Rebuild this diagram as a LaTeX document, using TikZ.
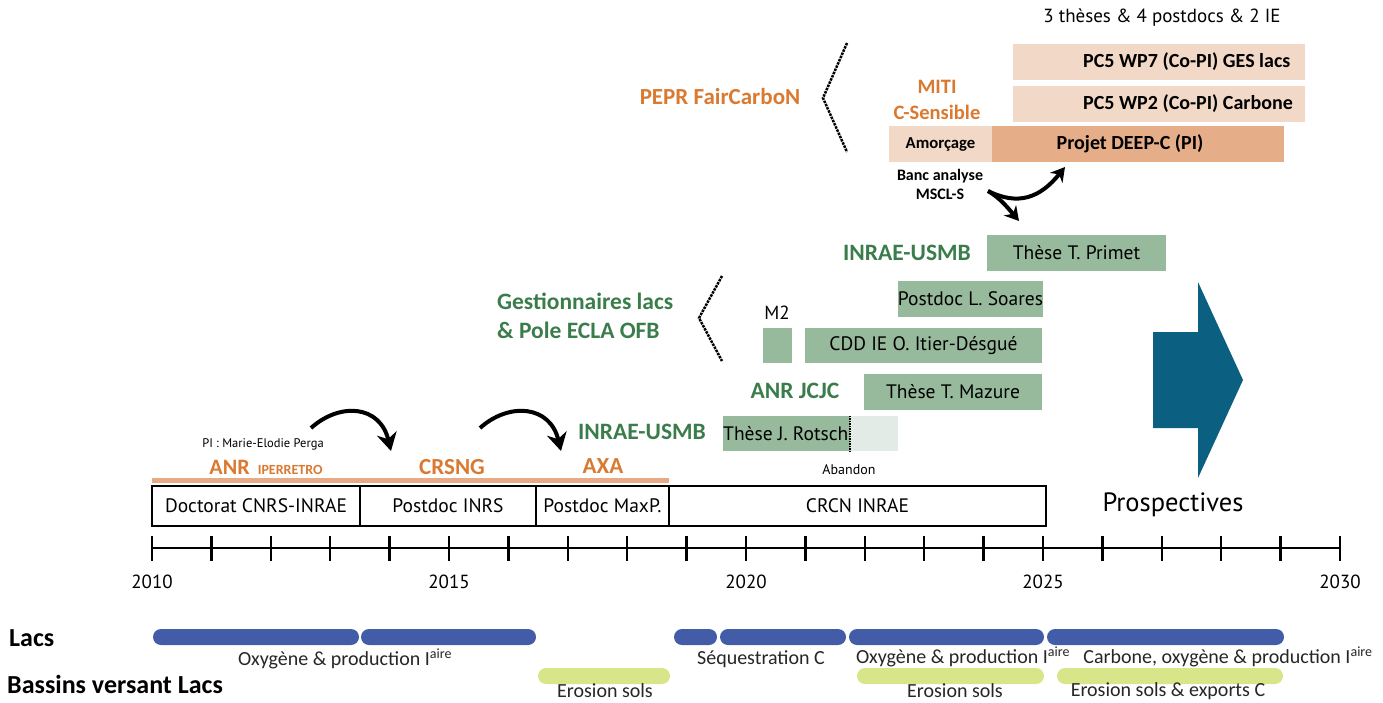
\documentclass[tikz,border=0pt]{standalone}
\usepackage{fontspec}
\setmainfont{Carlito}
\newfontfamily\myr{PT Sans}
\usetikzlibrary{arrows.meta}
\definecolor{orng}{RGB}{218,121,48}
\definecolor{grn}{RGB}{58,125,75}
\definecolor{gbox}{RGB}{151,185,156}
\definecolor{lgbox}{RGB}{226,235,229}
\definecolor{salL}{RGB}{242,216,198}
\definecolor{salD}{RGB}{230,174,136}
\definecolor{obar}{RGB}{232,170,132}
\definecolor{bbar}{RGB}{67,92,167}
\definecolor{ybar}{RGB}{217,229,137}
\definecolor{teal}{RGB}{11,95,128}
\newcommand{\fs}[1]{\fontsize{#1}{#1}\selectfont}
\tikzset{
  greenbox/.style={fill=gbox, draw=none, inner sep=0pt, font=\myr\fs{19.5}},
  salbox/.style={fill=salL, draw=none, inner sep=0pt, font=\bfseries\fs{20}},
  cvbox/.style={draw=black, line width=2.5pt, fill=white, inner sep=0pt, minimum height=40pt, font=\myr\fs{19.5}},
  olab/.style={text=orng, font=\bfseries\fs{23}, inner sep=0pt},
  glab/.style={text=grn, font=\bfseries\fs{23.5}, inner sep=0pt},
  blubar/.style={fill=bbar, rounded corners=8pt, minimum height=16pt, inner sep=0pt},
  yelbar/.style={fill=ybar, rounded corners=8pt, minimum height=16pt, inner sep=0pt},
  bartxt/.style={font=\fs{20}, inner sep=0pt, text=black!85},
  bigarrow/.style={line width=4pt, -{Stealth[length=18pt,width=20pt]}},
  bracket/.style={densely dotted, line width=2.5pt},
  yr/.style={font=\myr\fs{19}, inner sep=0pt}
}
\begin{document}
\begin{tikzpicture}[x=1pt,y=-1pt]
\useasboundingbox (0,0) rectangle (1383,702);
% top
\node[font=\myr\fs{19}, inner sep=0pt] (top) at (1162,18) {3 thèses \& 4 postdocs \& 2 IE};
\node[salbox, minimum width=292pt, minimum height=36pt] (wp7) at (1159,62) {};
\node[salbox, anchor=west] (wp7t) at (1083,62) {PC5 WP7 (Co-PI) GES lacs};
\node[salbox, minimum width=292pt, minimum height=36pt] (wp2) at (1159,104) {};
\node[salbox, anchor=west] (wp2t) at (1083,104) {PC5 WP2 (Co-PI) Carbone};
\node[salbox, minimum width=103pt, minimum height=36pt, font=\bfseries\fs{16.7}] (amor) at (940.5,144) {Amorçage};
\node[salbox, fill=salD, minimum width=292pt, minimum height=36pt] (deepc) at (1138,144) {};
\node[salbox, fill=none] (deepct) at (1130,144) {Projet DEEP-C (PI)};
\node[olab] (pepr) at (720,97) {PEPR FairCarboN};
\node[olab, font=\bfseries\fs{20.5}, align=center] (miti) at (937,100) {MITI\\[5pt]C-Sensible};
\node[font=\bfseries\fs{16}, align=center, inner sep=0pt] (banc) at (940,184) {Banc analyse\\[3pt]MSCL-S};
\coordinate (br1a) at (847,43); \coordinate (br1b) at (823,98); \coordinate (br1c) at (847,152);
\draw[bracket] (br1a) -- (br1b) -- (br1c);
\coordinate (dsrc) at (988,191);
\coordinate (dA) at (1019,221);
\coordinate (dB) at (1065,167);
\draw[line width=4pt, -{Stealth[length=14pt,width=16pt]}] (dsrc) .. controls (1000,198) and (1008,208) .. (dA);
\draw[line width=4pt, -{Stealth[length=14pt,width=16pt]}] (dsrc) .. controls (1018,206) and (1040,198) .. (dB);
% green
\node[glab] (usmb2) at (907,253) {INRAE-USMB};
\node[greenbox, minimum width=179pt, minimum height=36pt] (primet) at (1076.5,253) {Thèse T. Primet};
\node[greenbox, minimum width=143pt, minimum height=36pt] (soares) at (970.5,299) {Postdoc L. Soares};
\node[glab, align=left, anchor=west] (gest) at (497,316) {Gestionnaires lacs\\[5pt]\& Pole ECLA OFB};
\coordinate (br2a) at (722,276); \coordinate (br2b) at (699,318); \coordinate (br2c) at (722,361);
\draw[bracket] (br2a) -- (br2b) -- (br2c);
\node[font=\myr\fs{19}, inner sep=0pt] (m2t) at (777,313) {M2};
\node[greenbox, minimum width=29pt, minimum height=35pt] (m2) at (777.5,345.5) {};
\node[greenbox, minimum width=237pt, minimum height=35pt] (itier) at (923.5,345.5) {CDD IE O. Itier-Désgué};
\node[glab] (jcjc) at (795,391) {ANR JCJC};
\node[greenbox, minimum width=178pt, minimum height=36pt] (mazure) at (953,392) {Thèse T. Mazure};
\node[glab] (usmb1) at (642,432) {INRAE-USMB};
\node[greenbox, minimum width=127pt, minimum height=35pt] (rotsch) at (786.5,433.5) {};
\node[greenbox, fill=lgbox, minimum width=48pt, minimum height=35pt] (rotschL) at (874,433.5) {};
\node[font=\myr\fs{19.5}, inner sep=0pt, anchor=west] (rotscht) at (723,434) {Thèse J. Rotsch};
\draw[densely dotted, line width=1.5pt] (rotsch.north east) -- (rotsch.south east);
\node[font=\myr\fs{14}, inner sep=0pt] (aband) at (849,470) {Abandon};
% prospective arrow
\fill[teal] (1153,332) -- (1198,332) -- (1198,282) -- (1243,380) -- (1198,478) -- (1198,428) -- (1153,428) -- cycle;
\node[font=\myr\fs{26.5}, inner sep=0pt] (prosp) at (1173,505) {Prospectives};
% career row
\node[font=\myr\fs{12.5}, inner sep=0pt] (pi) at (263,444) {PI : Marie-Elodie Perga};
\node[olab, font=\bfseries\fs{22}] (anr) at (266,467) {ANR {\fs{14}\ IPERRETRO}};
\node[olab] (crsng) at (452,467) {CRSNG};
\node[olab] (axa) at (603,466) {AXA};
\fill[obar] (152,477.5) rectangle (669,483);
\node[cvbox, minimum width=208pt] (doct) at (256,506) {Doctorat CNRS-INRAE};
\node[cvbox, minimum width=176pt] (inrs) at (448,506) {Postdoc INRS};
\node[cvbox, minimum width=133pt] (maxp) at (602.5,506) {Postdoc MaxP.};
\node[cvbox, minimum width=377pt] (crcn) at (857.5,506) {CRCN INRAE};
\coordinate (a1s) at (311,428); \coordinate (a1e) at (391,451);
\coordinate (a2s) at (480,428); \coordinate (a2e) at (561,451);
\draw[bigarrow] (a1s) .. controls (340,402) and (380,405) .. (a1e);
\draw[bigarrow] (a2s) .. controls (509,402) and (550,405) .. (a2e);
% axis
\coordinate (ax0) at (152,548); \coordinate (ax1) at (1340,548);
\draw[line width=2.5pt] (ax0) -- (ax1);
\foreach \i in {0,...,20} {
  \draw[line width=2.5pt] ({152+59.4*\i},536) -- ({152+59.4*\i},561);
}
\node[yr] (y2010) at (152,582) {2010};
\node[yr] (y2015) at (449,582) {2015};
\node[yr] (y2020) at (746,582) {2020};
\node[yr] (y2025) at (1043,582) {2025};
\node[yr] (y2030) at (1340,582) {2030};
% bottom
\node[font=\bfseries\fs{26}, inner sep=0pt, anchor=west] (lacs) at (9,638) {Lacs};
\node[font=\bfseries\fs{26}, inner sep=0pt, anchor=west] (bass) at (7,684) {Bassins versant Lacs};
\node[blubar, minimum width=206pt] (l1) at (256,637) {};
\node[blubar, minimum width=175pt] (l2) at (448.5,637) {};
\node[blubar, minimum width=43pt] (l3) at (695.5,637) {};
\node[blubar, minimum width=126pt] (l4) at (783,637) {};
\node[blubar, minimum width=195pt] (l5) at (946.5,637) {};
\node[blubar, minimum width=237pt] (l6) at (1165.5,637) {};
\node[yelbar, minimum width=132pt] (e1) at (604,676) {};
\node[yelbar, minimum width=187pt] (e2) at (950.5,676) {};
\node[yelbar, minimum width=226pt] (e3) at (1170,676) {};
\node[bartxt] (t1) at (345,659) {Oxygène \& production I\textsuperscript{aire}};
\node[bartxt] (t2) at (761,659) {Séquestration C};
\node[bartxt] (t3) at (963,657) {Oxygène \& production I\textsuperscript{aire}};
\node[bartxt] (t4) at (1228,657) {Carbone, oxygène \& production I\textsuperscript{aire}};
\node[bartxt] (t5) at (605,691) {Erosion sols};
\node[bartxt] (t6) at (955,691) {Erosion sols};
\node[bartxt] (t7) at (1168,691) {Erosion sols \& exports C};
\end{tikzpicture}
\end{document}
